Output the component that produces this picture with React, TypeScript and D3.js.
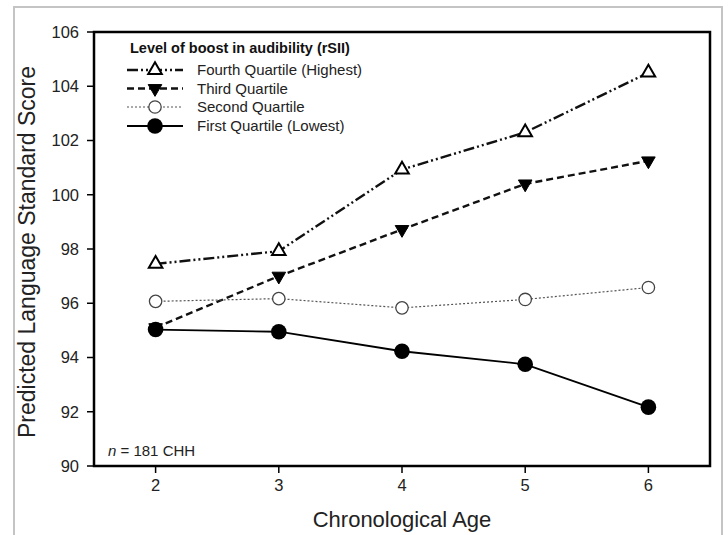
import React from "react";
import * as d3 from "d3";

const ages = [2, 3, 4, 5, 6];
const fourthQ = [97.45, 97.92, 100.93, 102.3, 104.5];
const thirdQ = [95.1, 97.0, 98.72, 100.4, 101.25];
const secondQ = [96.07, 96.17, 95.83, 96.14, 96.58];
const firstQ = [95.03, 94.95, 94.23, 93.75, 92.17];
const yTicks = [90, 92, 94, 96, 98, 100, 102, 104, 106];
const xTicks = [2, 3, 4, 5, 6];
const legendTitle = "Level of boost in audibility (rSII)";
const seriesNames = [
  "Fourth Quartile (Highest)",
  "Third Quartile",
  "Second Quartile",
  "First Quartile (Lowest)",
];

const FONT = "'Liberation Sans', Arial, sans-serif";

type Style = {
  dash: string;
  width: number;
  color: string;
  marker: "triUp" | "triDown" | "circOpen" | "circFilled";
};

const styles: Style[] = [
  { dash: "11,3,2,3,2,3", width: 2.4, color: "#111", marker: "triUp" },
  { dash: "7,4", width: 2.4, color: "#111", marker: "triDown" },
  { dash: "2,2", width: 1.2, color: "#555", marker: "circOpen" },
  { dash: "", width: 1.8, color: "#000", marker: "circFilled" },
];

const triPath = d3.symbol(d3.symbolTriangle, 80)() as string;

function Marker({ kind, x, y }: { kind: Style["marker"]; x: number; y: number }) {
  if (kind === "triUp")
    return <path d={triPath} transform={`translate(${x},${y})`} fill="#fff" stroke="#000" strokeWidth={2} />;
  if (kind === "triDown")
    return <path d={triPath} transform={`translate(${x},${y}) rotate(180)`} fill="#000" stroke="#000" strokeWidth={1} />;
  if (kind === "circOpen")
    return <circle cx={x} cy={y} r={6.2} fill="#fff" stroke="#444" strokeWidth={1.3} />;
  return <circle cx={x} cy={y} r={7.8} fill="#000" />;
}

export default function App() {
  const left = 94, right = 710, top = 32, bottom = 466;
  const x = d3.scaleLinear().domain([1.5, 6.5]).range([left, right]);
  const y = d3.scaleLinear().domain([90, 106]).range([bottom, top]);
  const allSeries = [fourthQ, thirdQ, secondQ, firstQ];
  const line = d3
    .line<number>()
    .x((_, i) => x(ages[i]))
    .y((d) => y(d));

  const legX0 = 127, legX1 = 183, legMarkX = 155, legTextX = 197;
  const legRows = [70, 88.5, 107, 126];

  return (
    <svg width={728} height={535} style={{ position: "absolute", left: 0, top: 0, background: "#fff" }} fontFamily={FONT}>
      <rect x={0} y={0} width={728} height={535} fill="#fff" />
      <rect x={14} y={7} width={708} height={600} fill="none" stroke="#c4c4c4" strokeWidth={2} />

      {/* series */}
      {allSeries.map((s, k) => (
        <g key={k}>
          <path
            d={line(s) as string}
            fill="none"
            stroke={styles[k].color}
            strokeWidth={styles[k].width}
            strokeDasharray={styles[k].dash || undefined}
          />
        </g>
      ))}
      {allSeries.map((s, k) => (
        <g key={"m" + k}>
          {s.map((v, i) => (
            <Marker key={i} kind={styles[k].marker} x={x(ages[i])} y={y(v)} />
          ))}
        </g>
      ))}

      {/* frame */}
      <rect x={left} y={top} width={right - left} height={bottom - top} fill="none" stroke="#000" strokeWidth={2.5} />

      {/* y axis ticks */}
      {yTicks.map((t) => (
        <g key={t}>
          <line x1={left - 7} x2={left} y1={y(t)} y2={y(t)} stroke="#000" strokeWidth={1.5} />
          <text x={left - 15} y={y(t)} dy="0.35em" textAnchor="end" fontSize={16.5} fill="#222">
            {t}
          </text>
        </g>
      ))}
      {/* x axis ticks */}
      {xTicks.map((t) => (
        <g key={t}>
          <line x1={x(t)} x2={x(t)} y1={bottom} y2={bottom + 7} stroke="#000" strokeWidth={1.5} />
          <text x={x(t)} y={491} textAnchor="middle" fontSize={16.5} fill="#222">
            {t}
          </text>
        </g>
      ))}

      <text x={(left + right) / 2} y={527} textAnchor="middle" fontSize={22} fill="#222">
        Chronological Age
      </text>
      <text
        transform={`translate(35,${(top + bottom) / 2 + 3}) rotate(-90)`}
        textAnchor="middle"
        fontSize={23}
        fill="#222"
      >
        Predicted Language Standard Score
      </text>

      <text x={108} y={456} fontSize={15} fill="#222">
        <tspan fontStyle="italic">n</tspan> = 181 CHH
      </text>

      {/* legend */}
      <text x={130} y={52.5} fontSize={14.5} fontWeight="bold" fill="#111">
        {legendTitle}
      </text>
      {seriesNames.map((name, k) => (
        <g key={name}>
          <line
            x1={legX0}
            x2={legX1}
            y1={legRows[k]}
            y2={legRows[k]}
            stroke={styles[k].color}
            strokeWidth={styles[k].width}
            strokeDasharray={styles[k].dash || undefined}
          />
          <Marker kind={styles[k].marker} x={legMarkX} y={legRows[k]} />
          <text x={legTextX} y={legRows[k]} dy="0.35em" fontSize={15} fill="#222">
            {name}
          </text>
        </g>
      ))}
    </svg>
  );
}
